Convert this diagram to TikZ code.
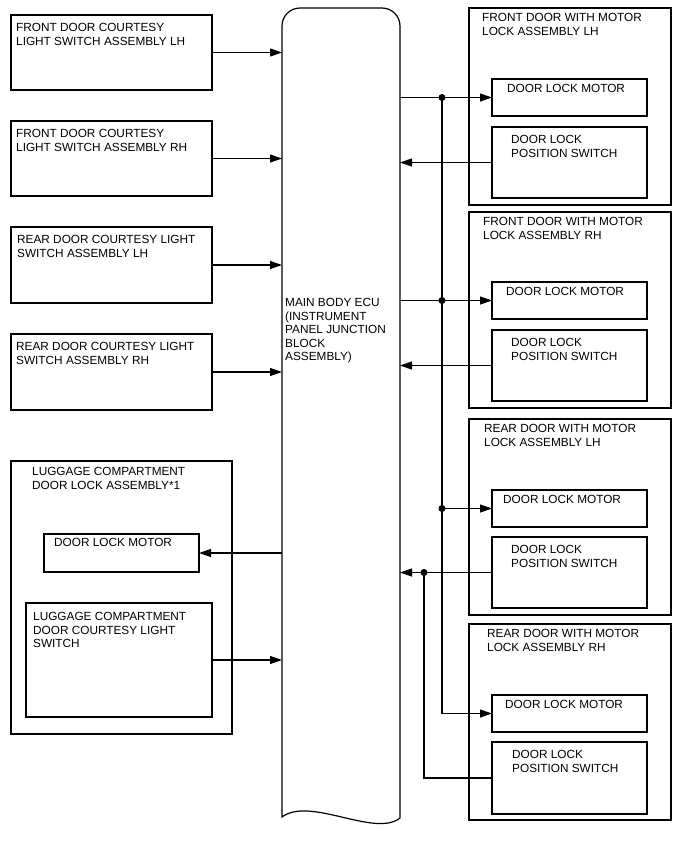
\documentclass[tikz,border=0pt]{standalone}
\usepackage{fontspec}
\setmainfont{Liberation Sans}
\usetikzlibrary{arrows.meta}

\tikzset{
  box/.style={draw, line width=1.2pt, rectangle, anchor=north west, inner sep=0, outer sep=0},
  lbl/.style={anchor=north west, inner sep=0, align=left, font=\fontsize{11.8}{13.6}\selectfont},
  wire/.style={line width=1.2pt},
  dot/.style={fill=black}
}

\begin{document}
\begin{tikzpicture}[x=1pt,y=-1pt, >={Triangle[length=12pt,width=8pt]}]
\useasboundingbox (0,0) rectangle (688,852);

% main body ecu
\node[inner sep=0, outer sep=0, minimum width=118, minimum height=809, anchor=north west] (ecu) at (282,8) {};
\draw[line width=1.2pt, rounded corners=18] (282,817) -- (282,8) -- (400,8) [sharp corners] -- (400,818)
  .. controls (375,838) and (310,796) .. (282,817) -- cycle;
\node[lbl] (ecu-t) at ([shift={(3,290)}]ecu.north west) {MAIN BODY ECU\\(INSTRUMENT\\PANEL JUNCTION\\BLOCK\\ASSEMBLY)};

% courtesy light switches
\node[box, minimum width=201, minimum height=75] (flsw) at (11,15) {};
\node[lbl] (flsw-t) at ([shift={(5,8)}]flsw.north west) {FRONT DOOR COURTESY\\LIGHT SWITCH ASSEMBLY LH};
\node[box, minimum width=201, minimum height=75] (frsw) at (11,121) {};
\node[lbl] (frsw-t) at ([shift={(5,8)}]frsw.north west) {FRONT DOOR COURTESY\\LIGHT SWITCH ASSEMBLY RH};
\node[box, minimum width=201, minimum height=76] (rlsw) at (11,227) {};
\node[lbl] (rlsw-t) at ([shift={(6,8)}]rlsw.north west) {REAR DOOR COURTESY LIGHT\\SWITCH ASSEMBLY LH};
\node[box, minimum width=201, minimum height=76] (rrsw) at (11,334) {};
\node[lbl] (rrsw-t) at ([shift={(5,8)}]rrsw.north west) {REAR DOOR COURTESY LIGHT\\SWITCH ASSEMBLY RH};

% luggage compartment
\node[box, minimum width=221, minimum height=273] (lg) at (11,461) {};
\node[lbl] (lg-t) at ([shift={(21,6)}]lg.north west) {LUGGAGE COMPARTMENT\\DOOR LOCK ASSEMBLY*1};
\node[box, minimum width=155, minimum height=38] (lgm) at (44,534) {};
\node[lbl] (lgm-t) at ([shift={(10,4)}]lgm.north west) {DOOR LOCK MOTOR};
\node[box, minimum width=186, minimum height=114] (lgsw) at (26,603) {};
\node[lbl] (lgsw-t) at ([shift={(7,9)}]lgsw.north west) {LUGGAGE COMPARTMENT\\DOOR COURTESY LIGHT\\SWITCH};

% door lock assemblies
\node[box, minimum width=202, minimum height=197] (fl) at (469,8) {};
\node[lbl] (fl-t) at ([shift={(13,5)}]fl.north west) {FRONT DOOR WITH MOTOR\\LOCK ASSEMBLY LH};
\node[box, minimum width=155, minimum height=37] (flm) at (492,79) {};
\node[lbl] (flm-t) at ([shift={(15,5)}]flm.north west) {DOOR LOCK MOTOR};
\node[box, minimum width=155, minimum height=71] (fls) at (492,127) {};
\node[lbl] (fls-t) at ([shift={(19,8)}]fls.north west) {DOOR LOCK\\POSITION SWITCH};

\node[box, minimum width=202, minimum height=196] (fr) at (469,212) {};
\node[lbl] (fr-t) at ([shift={(14,5)}]fr.north west) {FRONT DOOR WITH MOTOR\\LOCK ASSEMBLY RH};
\node[box, minimum width=155, minimum height=37] (frm) at (492,282) {};
\node[lbl] (frm-t) at ([shift={(14,5)}]frm.north west) {DOOR LOCK MOTOR};
\node[box, minimum width=155, minimum height=71] (frs) at (492,330) {};
\node[lbl] (frs-t) at ([shift={(19,8)}]frs.north west) {DOOR LOCK\\POSITION SWITCH};

\node[box, minimum width=202, minimum height=196] (rl) at (469,419) {};
\node[lbl] (rl-t) at ([shift={(15,5)}]rl.north west) {REAR DOOR WITH MOTOR\\LOCK ASSEMBLY LH};
\node[box, minimum width=155, minimum height=37] (rlm) at (492,490) {};
\node[lbl] (rlm-t) at ([shift={(11,5)}]rlm.north west) {DOOR LOCK MOTOR};
\node[box, minimum width=155, minimum height=71] (rls) at (492,537) {};
\node[lbl] (rls-t) at ([shift={(19,8)}]rls.north west) {DOOR LOCK\\POSITION SWITCH};

\node[box, minimum width=202, minimum height=196] (rr) at (469,624) {};
\node[lbl] (rr-t) at ([shift={(18,5)}]rr.north west) {REAR DOOR WITH MOTOR\\LOCK ASSEMBLY RH};
\node[box, minimum width=155, minimum height=37] (rrm) at (492,695) {};
\node[lbl] (rrm-t) at ([shift={(13,5)}]rrm.north west) {DOOR LOCK MOTOR};
\node[box, minimum width=155, minimum height=72] (rrs) at (492,742) {};
\node[lbl] (rrs-t) at ([shift={(20,8)}]rrs.north west) {DOOR LOCK\\POSITION SWITCH};

% left side wires
\draw[wire,->] (flsw.east) -- (flsw.east -| ecu.west);
\draw[wire,->] (frsw.east) -- (frsw.east -| ecu.west);
\draw[wire,->] (rlsw.east) -- (rlsw.east -| ecu.west);
\draw[wire,->] (rrsw.east) -- (rrsw.east -| ecu.west);
\draw[wire,->] (lgm.east -| ecu.west) -- (lgm.east);
\draw[wire,->] (lgsw.east) -- (lgsw.east -| ecu.west);

% right side wires
\coordinate (mbus) at (442,0);
\coordinate (sbus) at (424,0);
\draw[wire,->] (flm.west -| ecu.east) -- (flm.west);
\draw[wire,->] (fls.west) -- (fls.west -| ecu.east);
\draw[wire,->] (frm.west -| ecu.east) -- (frm.west);
\draw[wire,->] (frs.west) -- (frs.west -| ecu.east);
\draw[wire,->] (rlm.west -| mbus) -- (rlm.west);
\draw[wire,->] (rls.west) -- (rls.west -| ecu.east);
\draw[wire,->] (flm.west -| mbus) |- (rrm.west);
\draw[wire] (rrs.west) -| (rls.west -| sbus);

\fill[dot] (flm.west -| mbus) circle (3.5);
\fill[dot] (frm.west -| mbus) circle (3.5);
\fill[dot] (rlm.west -| mbus) circle (3.5);
\fill[dot] (rls.west -| sbus) circle (3.5);
\end{tikzpicture}
\end{document}
